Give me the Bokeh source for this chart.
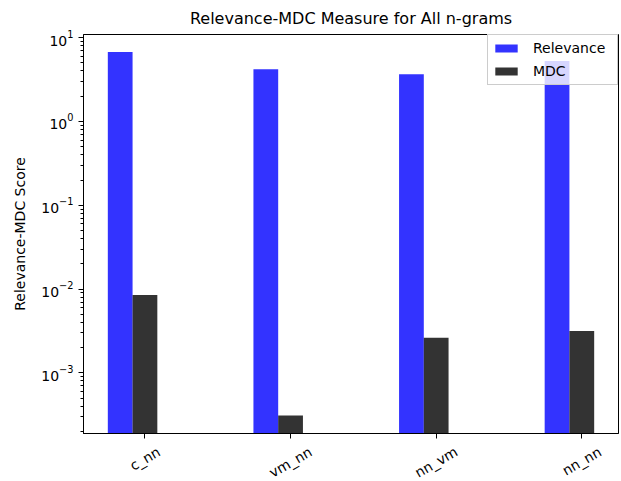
import math
from bokeh.plotting import figure
from bokeh.layouts import column
from bokeh.models import (ColumnDataSource, Range1d, FixedTicker, Legend, LegendItem,
                          LogTicker)
from bokeh.core.properties import value
from bokeh.embed import file_html
from bokeh.resources import INLINE

categories = ["c_nn", "vm_nn", "nn_vm", "nn_nn"]
relevance = [6.75, 4.19, 3.65, 5.27]
mdc = [0.00848, 0.00031, 0.00262, 0.00315]

BAR_W = 0.17
FONT = "DejaVu Sans"
Y_START, Y_END = 1.89e-4, 10.9
X_START, X_END = -0.422, 3.252
H1, H2 = 441, 40
BOTTOM1 = 8

xs = list(range(len(categories)))
src = ColumnDataSource(dict(
    x_rel=[i - BAR_W for i in xs],
    x_mdc=xs,
    relevance=relevance,
    mdc=mdc,
))

p = figure(width=621, height=H1, y_axis_type="log",
           x_range=Range1d(X_START, X_END), y_range=Range1d(Y_START, Y_END),
           output_backend="svg", toolbar_location=None,
           min_border_left=83, min_border_right=3, min_border_top=34,
           min_border_bottom=BOTTOM1)

bottom = 1e-6
r1 = p.vbar(x="x_rel", top="relevance", bottom=bottom, width=BAR_W, source=src,
            fill_color="blue", fill_alpha=0.8, line_color=None)
r2 = p.vbar(x="x_mdc", top="mdc", bottom=bottom, width=BAR_W, source=src,
            fill_color="black", fill_alpha=0.8, line_color=None)

p.title.text = "Relevance-MDC Measure for All n-grams"
p.title.align = "center"
p.title.text_font = FONT
p.title.text_font_size = "16px"
p.title.text_font_style = "normal"
p.title.text_color = "black"
p.title.standoff = 13

p.xgrid.visible = False
p.ygrid.visible = False
p.outline_line_color = "black"
p.outline_line_alpha = 1
p.outline_line_width = 1

for ax in (p.xaxis[0], p.yaxis[0]):
    ax.axis_line_color = "black"
    ax.major_tick_line_color = "black"
    ax.minor_tick_line_color = "black"
    ax.major_tick_in = 0
    ax.major_tick_out = 5
    ax.minor_tick_in = 0
    ax.minor_tick_out = 3
    ax.major_label_text_font = FONT
    ax.major_label_text_font_size = "14px"
    ax.major_label_text_color = "black"
    ax.axis_label_text_font = FONT
    ax.axis_label_text_font_size = "14px"
    ax.axis_label_text_font_style = "normal"
    ax.axis_label_text_color = "black"

# x axis: ticks only; category labels are drawn in the strip below
p.xaxis.ticker = FixedTicker(ticks=xs)
p.xaxis.major_label_text_font_size = "0px"
p.xaxis.major_label_standoff = 0
p.xaxis.major_label_overrides = {i: "" for i in xs}
p.xaxis.minor_tick_line_color = None

p.yaxis.ticker = LogTicker(num_minor_ticks=10)
p.yaxis.axis_label = "Relevance-MDC Score"
p.yaxis.axis_label_standoff = 10

legend = Legend(items=[LegendItem(label="Relevance", renderers=[r1]),
                       LegendItem(label="MDC", renderers=[r2])],
                location="top_right", margin=0, padding=4, spacing=5,
                label_height=18, glyph_height=10, glyph_width=28,
                label_standoff=13, label_width=80,
                label_text_font=FONT, label_text_font_size="14px",
                label_text_color="black",
                border_line_color="#cccccc", border_line_alpha=1,
                background_fill_alpha=0.8)
p.add_layout(legend)

# strip below the plot holding the rotated tick labels (centered under each tick)
char_w = {"c": 7.7, "_": 7.0, "n": 8.9, "v": 8.3, "m": 13.6}
label_y = []
for c in categories:
    w = sum(char_w.get(ch, 8.5) for ch in c)
    below_frame = 10 + (w * 0.5 + 16 * 0.866) / 2   # px below the frame's bottom edge
    label_y.append(H2 - (below_frame - BOTTOM1))

p2 = figure(width=621, height=H2, x_range=p.x_range, y_range=Range1d(0, H2),
            output_backend="svg", toolbar_location=None,
            x_axis_location=None, y_axis_location=None,
            min_border_left=83, min_border_right=3, min_border_top=0, min_border_bottom=0)
p2.outline_line_color = None
p2.xgrid.visible = False
p2.ygrid.visible = False
p2.text(x=xs, y=label_y, text=categories, angle=math.pi / 6,
        text_align="center", text_baseline="middle",
        text_font=value(FONT), text_font_size="14px", text_color="black")

layout = column(p, p2, spacing=0)
open("out.html", "w").write(file_html(layout, INLINE))
